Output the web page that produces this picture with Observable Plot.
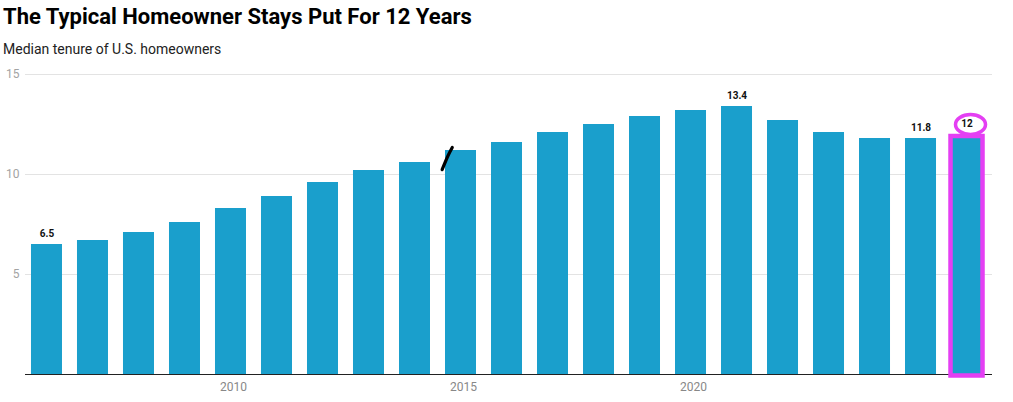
<!DOCTYPE html>
<html>
<head>
<meta charset="utf-8">
<script src="https://cdn.jsdelivr.net/npm/d3@7"></script>
<script src="https://cdn.jsdelivr.net/npm/@observablehq/plot@0.6"></script>
<style>
  html, body { margin: 0; padding: 0; background: #fff; }
  body { width: 1013px; height: 402px; overflow: hidden; font-family: Roboto, "Noto Sans", sans-serif; }
  #title { font-size: 22px; font-weight: 700; color: #000; line-height: 28px; padding: 3px 0 0 3px; margin: 0; }
  #subtitle { font-size: 14px; color: #222; line-height: 18px; padding: 0 0 0 3px; margin-top: 9px; }
  #chart { margin-top: 4px; }
  #chart svg { display: block; }
</style>
</head>
<body>
<div id="title">The Typical Homeowner Stays Put For 12 Years</div>
<div id="subtitle">Median tenure of U.S. homeowners</div>
<div id="chart"></div>
<script>
const years  = [2006, 2007, 2008, 2009, 2010, 2011, 2012, 2013, 2014, 2015, 2016, 2017, 2018, 2019, 2020, 2021, 2022, 2023, 2024, 2025, 2026];
const tenure = [6.5, 6.7, 7.1, 7.6, 8.3, 8.9, 9.6, 10.2, 10.6, 11.2, 11.6, 12.1, 12.5, 12.9, 13.2, 13.4, 12.7, 12.1, 11.8, 11.8, 12];
const labeledYears = [2006, 2021, 2025, 2026];
const highlightYear = 2026;
const xTicks = [2010, 2015, 2020];
const yTicks = [5, 10, 15];
// hand-drawn annotation stroke near 2015 (fractional year, value)
const strokeX = [2014.59, 2014.72, 2014.81];
const strokeY = [10.24, 10.95, 11.35];

const data = years.map((year, i) => ({year, value: tenure[i]}));
const labeled = data.filter(d => labeledYears.includes(d.year));
const highlight = data.filter(d => d.year === highlightYear);
const squiggle = strokeX.map((x, i) => ({x, y: strokeY[i]}));

const barColor = "#1a9fcc";
const magenta = "#e43ff3";

const ellipse = {
  draw(ctx) {
    const rx = 15, ry = 10, k = 0.5523;
    ctx.moveTo(rx, 0);
    ctx.bezierCurveTo(rx, ry * k, rx * k, ry, 0, ry);
    ctx.bezierCurveTo(-rx * k, ry, -rx, ry * k, -rx, 0);
    ctx.bezierCurveTo(-rx, -ry * k, -rx * k, -ry, 0, -ry);
    ctx.bezierCurveTo(rx * k, -ry, rx, -ry * k, rx, 0);
    ctx.closePath();
  }
};

const chart = Plot.plot({
  width: 1013,
  height: 336,
  marginTop: 12,
  marginBottom: 24,
  marginLeft: 25,
  marginRight: 21,
  style: {fontFamily: "Roboto, sans-serif", background: "#fff"},
  x: {type: "linear", domain: [2005.533, 2026.554]},
  y: {domain: [0, 15]},
  marks: [
    Plot.gridY(yTicks, {stroke: "#e3e3e3", strokeOpacity: 1, strokeWidth: 1}),
    Plot.axisY(yTicks, {tickSize: 0, tickPadding: 6, fontSize: 12, fill: "#a3a3a3", label: null}),
    Plot.axisX(xTicks, {tickSize: 0, tickPadding: 8, fontSize: 12, fill: "#888", dx: 2.5, label: null, tickFormat: d => String(d)}),
    Plot.rectY(data, {x1: d => d.year - 0.5, x2: d => d.year + 0.5, y: "value", fill: barColor, insetLeft: 7.5, insetRight: 7.5}),
    Plot.ruleY([0], {stroke: "#222", strokeWidth: 1.2}),
    Plot.text(labeled, {x: "year", y: "value", text: d => String(d.value), dy: -11, fontSize: 10, fontWeight: 700, fill: "#111"}),
    Plot.rect(highlight, {x1: d => d.year - 0.5, x2: d => d.year + 0.5, y1: 0, y2: "value", fill: "none", stroke: magenta, strokeWidth: 4.5, insetLeft: 7, insetRight: 7, insetTop: 2, insetBottom: -1.5}),
    Plot.dot(highlight, {x: "year", y: "value", symbol: ellipse, fill: "none", stroke: magenta, strokeWidth: 3.5, dx: 3.5, dy: -10}),
    Plot.line(squiggle, {x: "x", y: "y", stroke: "#000", strokeWidth: 3.2, strokeLinecap: "round", curve: "catmull-rom"})
  ]
});
document.getElementById("chart").appendChild(chart);
</script>
</body>
</html>
